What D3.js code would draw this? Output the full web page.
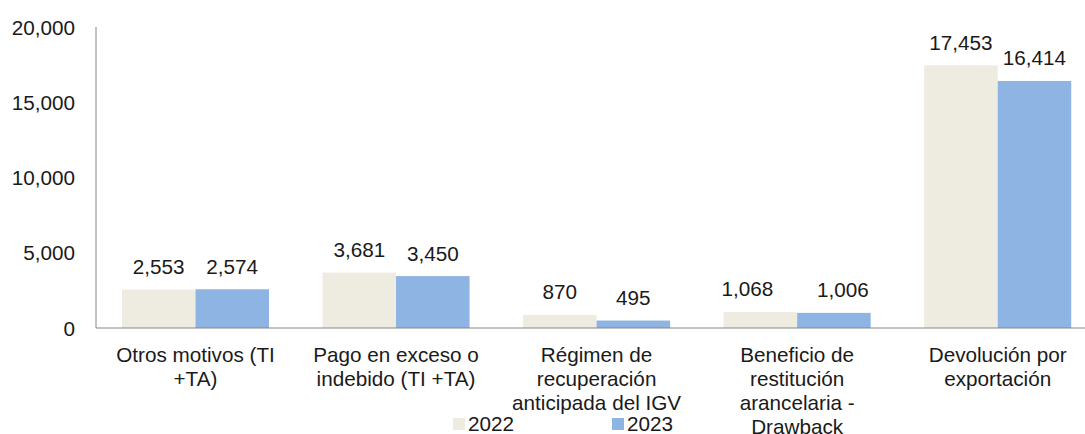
<!DOCTYPE html>
<html><head><meta charset="utf-8">
<script src="https://cdn.jsdelivr.net/npm/d3@7"></script>
<style>body{margin:0;background:#fff}svg{display:block}text{font-family:"Liberation Sans",Arial,sans-serif;fill:#1a1a1a}</style>
</head><body><svg id="c" width="1085" height="434"></svg>
<script>
const categories = [
  ["Otros motivos (TI", "+TA)"],
  ["Pago en exceso o", "indebido (TI +TA)"],
  ["Régimen de", "recuperación", "anticipada del IGV"],
  ["Beneficio de", "restitución", "arancelaria -", "Drawback"],
  ["Devolución por", "exportación"]
];
const seriesNames = ["2022", "2023"];
const values2022 = [2553, 3681, 870, 1068, 17453];
const values2023 = [2574, 3450, 495, 1006, 16414];
const yTicks = [0, 5000, 10000, 15000, 20000];
const colors = ["#EEEBE0", "#8EB4E3"];

const FS = "20.7px";
const svg = d3.select("#c");
const pLeft = 95.2, pRight = 1098, pTop = 27, pBottom = 328;
const keys = categories.map((c, i) => i);
const x = d3.scaleBand().domain(keys).range([pLeft, pRight]).paddingInner(0.267).paddingOuter(0.1335);
const x1 = d3.scaleBand().domain(seriesNames).range([0, x.bandwidth()]);
const y = d3.scaleLinear().domain([0, 20000]).range([pBottom, pTop]);
const fmt = d3.format(",");
const series = [values2022, values2023];
// manual label nudges as in the original chart (series x category)
const labelNudge = [[0, 0, 0, -13, 0], [0, 0, 0, 9, 0]];

// y axis labels
const yAxis = d3.axisLeft(y).tickValues(yTicks).tickFormat(fmt).tickSize(0).tickPadding(0);
const gy = svg.append("g").attr("transform", `translate(75,0)`).call(yAxis);
gy.select(".domain").remove();
gy.selectAll("text").style("font-size", FS).style("font-family", '"Liberation Sans",Arial,sans-serif').attr("fill", "#1a1a1a").attr("dy", "0.34em");

// bars
seriesNames.forEach((s, si) => {
  svg.append("g").selectAll("rect").data(series[si]).join("rect")
    .attr("x", (d, i) => x(i) + x1(s))
    .attr("y", d => y(d))
    .attr("width", x1.bandwidth())
    .attr("height", d => y(0) - y(d))
    .attr("fill", colors[si]);
  svg.append("g").selectAll("text").data(series[si]).join("text")
    .attr("x", (d, i) => x(i) + x1(s) + x1.bandwidth() / 2 + labelNudge[si][i])
    .attr("y", d => y(d) - 15.5)
    .attr("text-anchor", "middle")
    .style("font-size", FS)
    .text(d => fmt(d));
});

// axes lines
svg.append("line").attr("x1", 96).attr("x2", 96).attr("y1", pTop).attr("y2", pBottom).attr("stroke", "#868686").attr("stroke-width", 1);
const xAxis = d3.axisBottom(x).tickSize(0).tickFormat("");
const gx = svg.append("g").attr("transform", `translate(0,${pBottom})`).call(xAxis);
gx.select(".domain").attr("stroke", "#868686").attr("d", `M96,0H${pRight}`);

// category labels
keys.forEach(i => {
  const cx = x(i) + x.bandwidth() / 2;
  const t = svg.append("text").attr("text-anchor", "middle").style("font-size", FS).attr("x", cx);
  categories[i].forEach((line, li) => {
    t.append("tspan").attr("x", cx).attr("y", 361.5 + li * 24.2).text(line);
  });
});

// legend
const legendX = [453, 612];
seriesNames.forEach((s, si) => {
  svg.append("rect").attr("x", legendX[si]).attr("y", 418).attr("width", 12).attr("height", 12).attr("fill", colors[si]);
  svg.append("text").attr("x", legendX[si] + 15).attr("y", 431).style("font-size", FS).text(s);
});
</script></body></html>
